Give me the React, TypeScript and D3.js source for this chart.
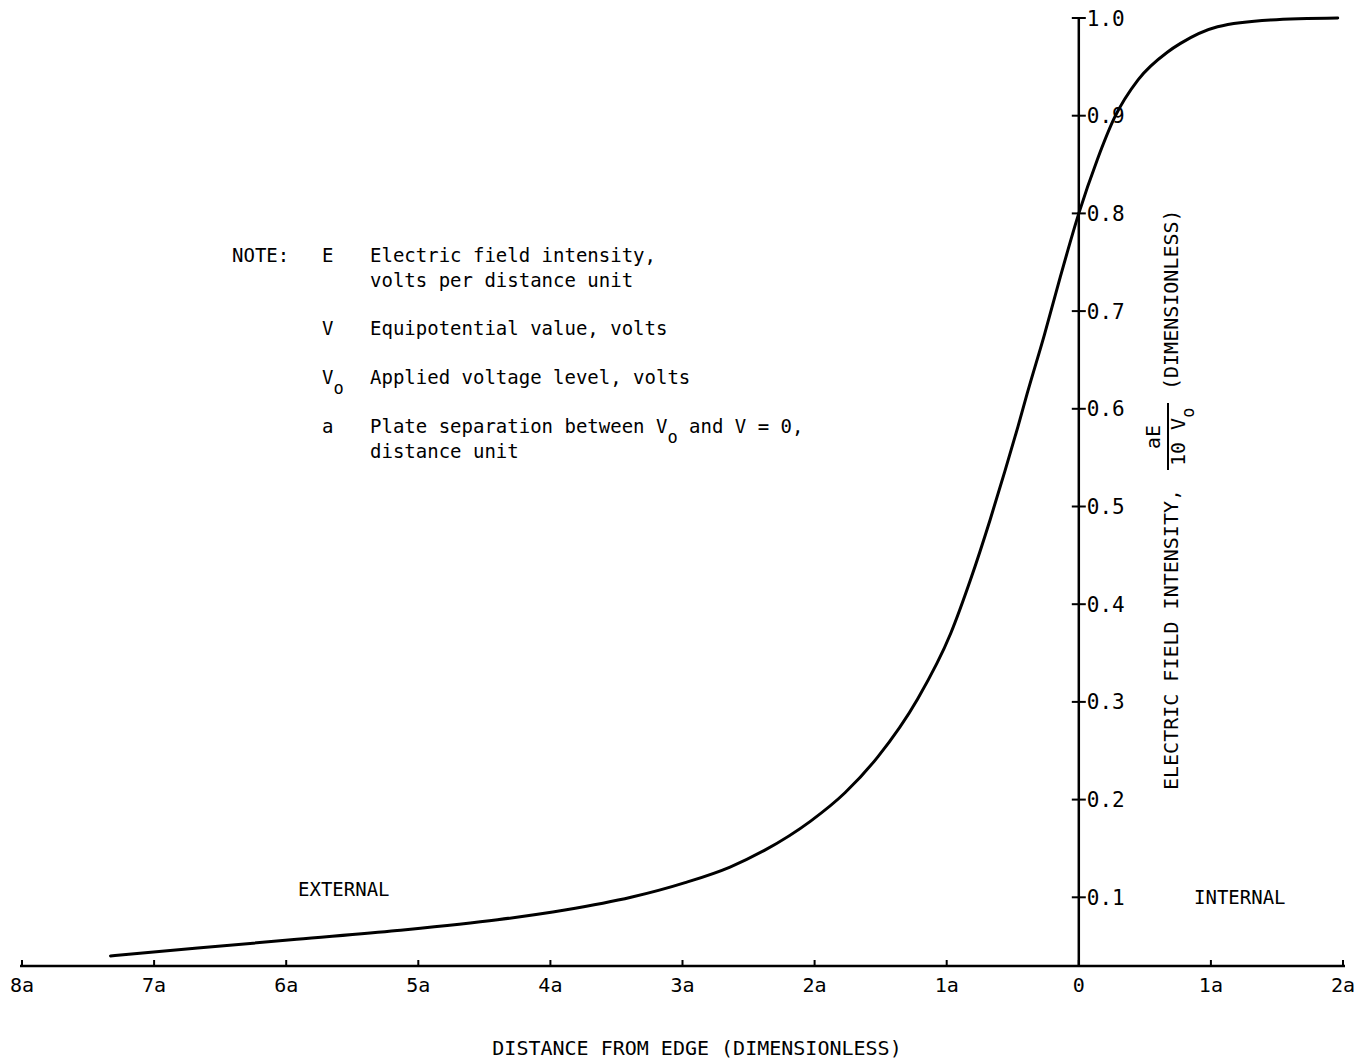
import React, { useRef, useEffect } from "react";
import * as d3 from "d3";

// distance from edge in units of a (negative = external side)
const distance = [
  -7.33, -6.67, -5.92, -5.16, -4.4, -3.89, -3.39, -2.98, -2.64, -2.38, -2.03,
  -1.77, -1.52, -1.22, -0.97, -0.82, -0.67, -0.56, -0.46, -0.39, -0.26, -0.14,
  0, 0.14, 0.27, 0.45, 0.67, 0.77, 1.05, 1.45, 1.96,
];
const fieldIntensity = [
  0.04, 0.048, 0.057, 0.066, 0.077, 0.087, 0.1, 0.115, 0.131, 0.148, 0.178,
  0.207, 0.244, 0.303, 0.37, 0.425, 0.487, 0.536, 0.582, 0.616, 0.676, 0.735,
  0.8, 0.855, 0.898, 0.937, 0.965, 0.974, 0.991, 0.998, 1.0,
];

const xTicks = [-8, -7, -6, -5, -4, -3, -2, -1, 0, 1, 2];
const xTickLabels = ["8a", "7a", "6a", "5a", "4a", "3a", "2a", "1a", "0", "1a", "2a"];
const yTicks = [0.1, 0.2, 0.3, 0.4, 0.5, 0.6, 0.7, 0.8, 0.9, 1.0];
const yTickLabels = ["0.1", "0.2", "0.3", "0.4", "0.5", "0.6", "0.7", "0.8", "0.9", "1.0"];

const noteLines = [
  { key: "E", text: ["Electric field intensity,", "volts per distance unit"] },
  { key: "V", text: ["Equipotential value, volts"] },
  { key: "Vo", text: ["Applied voltage level, volts"] },
  { key: "a", text: ["Plate separation between Vo and V = 0,", "distance unit"] },
];

const FONT = "'DejaVu Sans Mono', 'Liberation Mono', monospace";

function App() {
  const canvas = useRef(null);

  useEffect(() => {
    const width = 1359;
    const height = 1063;
    const axisY = 966;

    const svg = d3
      .select(canvas.current)
      .attr("width", width)
      .attr("height", height);
    svg.selectAll("*").remove();

    const xScale = d3.scaleLinear().domain([-8, 2]).range([22, 1343]);
    const yScale = d3.scaleLinear().domain([0, 1]).range([995, 18]);
    const x0 = xScale(0);

    const g = svg.append("g").attr("font-family", FONT).attr("fill", "#000");

    // x axis
    g.append("line")
      .attr("x1", xScale(-8) - 2)
      .attr("x2", xScale(2) + 2)
      .attr("y1", axisY)
      .attr("y2", axisY)
      .attr("stroke", "#000")
      .attr("stroke-width", 2.5);
    g.selectAll(".xtick")
      .data(xTicks)
      .join("line")
      .attr("x1", (d) => xScale(d))
      .attr("x2", (d) => xScale(d))
      .attr("y1", axisY - 6)
      .attr("y2", axisY)
      .attr("stroke", "#000")
      .attr("stroke-width", 2);
    g.selectAll(".xlabel")
      .data(xTicks)
      .join("text")
      .attr("x", (d) => xScale(d))
      .attr("y", 992)
      .attr("text-anchor", "middle")
      .attr("font-size", 20)
      .text((d, i) => xTickLabels[i]);

    g.append("text")
      .attr("x", 697)
      .attr("y", 1055)
      .attr("text-anchor", "middle")
      .attr("font-size", 20)
      .text("DISTANCE FROM EDGE (DIMENSIONLESS)");

    // y axis
    g.append("line")
      .attr("x1", x0)
      .attr("x2", x0)
      .attr("y1", yScale(1))
      .attr("y2", axisY)
      .attr("stroke", "#000")
      .attr("stroke-width", 2.5);
    g.selectAll(".ytick")
      .data(yTicks)
      .join("line")
      .attr("x1", x0 - 7)
      .attr("x2", x0 + 7)
      .attr("y1", (d) => yScale(d))
      .attr("y2", (d) => yScale(d))
      .attr("stroke", "#000")
      .attr("stroke-width", 2);
    g.selectAll(".ylabel")
      .data(yTicks)
      .join("text")
      .attr("x", x0 + 8)
      .attr("y", (d) => yScale(d))
      .attr("dy", "0.36em")
      .attr("font-size", 21)
      .text((d, i) => yTickLabels[i]);

    // y axis title, rotated
    const yt = g.append("g").attr("transform", "translate(1178,0) rotate(-90)");
    yt.append("text")
      .attr("x", -790)
      .attr("y", 0)
      .attr("font-size", 20)
      .text("ELECTRIC FIELD INTENSITY,");
    yt.append("text")
      .attr("x", -437)
      .attr("y", -18)
      .attr("text-anchor", "middle")
      .attr("font-size", 20)
      .text("aE");
    yt.append("line")
      .attr("x1", -470)
      .attr("x2", -403)
      .attr("y1", -10)
      .attr("y2", -10)
      .attr("stroke", "#000")
      .attr("stroke-width", 2);
    const den = yt
      .append("text")
      .attr("x", -466)
      .attr("y", 7)
      .attr("font-size", 20);
    den.append("tspan").text("10 V");
    den.append("tspan").attr("dy", 9).attr("font-size", 17).text("o");
    yt.append("text")
      .attr("x", -390)
      .attr("y", 0)
      .attr("font-size", 20)
      .text("(DIMENSIONLESS)");

    // note block
    const note = g.append("g").attr("font-size", 19);
    note.append("text").attr("x", 232).attr("y", 262).text("NOTE:");
    const baseY = [262, 335, 384, 433];
    noteLines.forEach((n, i) => {
      const y = baseY[i];
      const k = note.append("text").attr("x", 322).attr("y", y);
      if (n.key === "Vo") {
        k.append("tspan").text("V");
        k.append("tspan").attr("dy", 10).attr("font-size", 17).text("o");
      } else {
        k.text(n.key);
      }
      n.text.forEach((line, j) => {
        const t = note
          .append("text")
          .attr("x", 370)
          .attr("y", y + j * 25);
        const idx = line.indexOf("Vo");
        if (idx >= 0) {
          t.append("tspan").text(line.slice(0, idx) + "V");
          t.append("tspan").attr("dy", 10).attr("font-size", 17).text("o");
          t.append("tspan").attr("dy", -10).text(" " + line.slice(idx + 2).trimStart());
        } else {
          t.text(line);
        }
      });
    });

    // region labels
    g.append("text").attr("x", 298).attr("y", 896).attr("font-size", 19).text("EXTERNAL");
    g.append("text").attr("x", 1194).attr("y", 904).attr("font-size", 19).text("INTERNAL");

    // curve
    const data = distance.map((d, i) => ({ x: d, y: fieldIntensity[i] }));
    const line = d3
      .line()
      .x((d) => xScale(d.x))
      .y((d) => yScale(d.y))
      .curve(d3.curveMonotoneX);
    svg
      .append("path")
      .datum(data)
      .attr("d", line)
      .attr("fill", "none")
      .attr("stroke", "#000")
      .attr("stroke-width", 3)
      .attr("stroke-linecap", "round");
  }, []);

  return (
    <div style={{ position: "absolute", left: 0, top: 0, background: "#fff" }}>
      <svg ref={canvas} style={{ display: "block" }} />
    </div>
  );
}

export default App;
